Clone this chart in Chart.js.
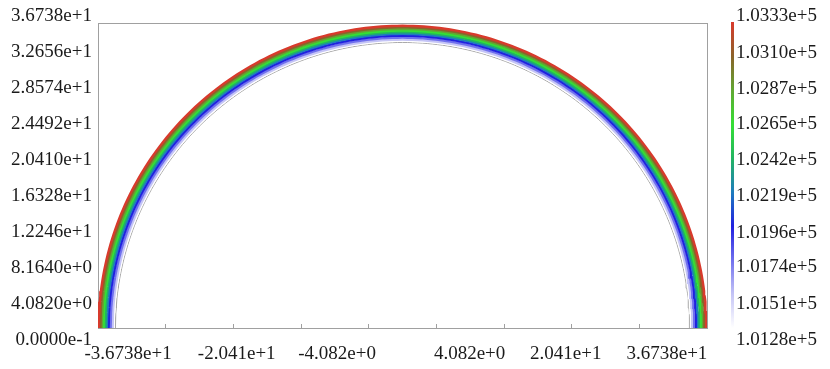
<!DOCTYPE html>
<html>
<head>
<meta charset="utf-8">
<script src="https://cdn.jsdelivr.net/npm/chart.js@4.4.1/dist/chart.umd.min.js"></script>
<style>
  html, body { margin: 0; padding: 0; background: #fff; }
  canvas { display: block; }
</style>
</head>
<body>
<canvas id="myChart" width="830" height="369"></canvas>
<script>
/* data */
const yTickLabels = ['3.6738e+1', '3.2656e+1', '2.8574e+1', '2.4492e+1', '2.0410e+1',
                     '1.6328e+1', '1.2246e+1', '8.1640e+0', '4.0820e+0', '0.0000e-1'];
const xTickLabels = ['-3.6738e+1', '-2.041e+1', '-4.082e+0', '4.082e+0', '2.041e+1', '3.6738e+1'];
const xLabelAt = [-33.1, -20.0, -7.9, 8.1, 19.7, 31.9];   // where each x label sits
const xTickValues = [-36.738, -28.574, -20.41, -12.246, -4.082, 4.082, 12.246, 20.41, 28.574, 36.738];
const cbTickLabels = ['1.0333e+5', '1.0310e+5', '1.0287e+5', '1.0265e+5', '1.0242e+5',
                      '1.0219e+5', '1.0196e+5', '1.0174e+5', '1.0151e+5', '1.0128e+5'];
const cbColors = ['#d83a2c', '#8a642a', '#60a832', '#34e034', '#22b462',
                  '#1e7cbe', '#2020e0', '#7070ee', '#c4c4f6', '#ffffff'];
// contour rings: radius and pressure (same levels as the colour bar)
const ringRadius = [36.66, 36.47, 36.28, 36.08, 35.88, 35.68, 35.46, 35.22, 34.98, 34.84];
const ringPressure = [1.0333e5, 1.0310e5, 1.0287e5, 1.0265e5, 1.0242e5,
                      1.0219e5, 1.0196e5, 1.0174e5, 1.0151e5, 1.0128e5];
const innerEdge = 34.64;
const R = 36.738;

/* layout of the plot box (px) */
const BOX_TOP = 23, BOX_H = 305;
const LABEL_OVER = 6.5, LABEL_UNDER = 12;   // labels run a bit past the box

function stretch(lo, hi) {
  const span = (hi - lo) * BOX_H / (BOX_H + LABEL_OVER + LABEL_UNDER);
  const min = lo + LABEL_UNDER / BOX_H * span;
  return { min: min, max: min + span };
}

function semicircle(r) {
  const pts = [];
  for (let a = 0; a <= 180; a++) {
    const t = a * Math.PI / 180;
    pts.push({ x: r * Math.cos(t), y: r * Math.sin(t) });
  }
  return pts;
}

const cbMin = ringPressure[ringPressure.length - 1], cbMax = ringPressure[0];
function colorFor(p) {
  return cbColors[ringPressure.indexOf(p)];
}

const ctx = document.getElementById('myChart');
const grad = ctx.getContext('2d').createLinearGradient(0, BOX_TOP, 0, BOX_TOP + BOX_H);
cbColors.forEach((c, i) => grad.addColorStop(i / (cbColors.length - 1), c));

const datasets = ringRadius.map((r, i) => ({
  data: semicircle(r),
  borderColor: colorFor(ringPressure[i]),
  borderWidth: 2.4,
  showLine: true,
  pointRadius: 0
}));
datasets.push({ data: semicircle(innerEdge), borderColor: '#a8a8a8', borderWidth: 1, showLine: true, pointRadius: 0 });

const font = { family: 'Liberation Serif', size: 19 };
const yl = stretch(0, R);
const cb = stretch(cbMin, cbMax);

var config = {
  type: 'scatter',
  data: { datasets: datasets },
  options: {
    responsive: false,
    animation: false,
    devicePixelRatio: 1,
    layout: { padding: { top: BOX_TOP, left: 0, right: 0, bottom: 0 } },
    plugins: { legend: { display: false }, tooltip: { enabled: false } },
    scales: {
      x: {
        type: 'linear', position: 'bottom', min: -R, max: R, weight: 0,
        afterBuildTicks: s => { s.ticks = xTickValues.map(v => ({ value: v })); },
        afterFit: s => { s.height = 0; },
        ticks: { callback: () => '', autoSkip: false },
        grid: { drawOnChartArea: false, tickLength: -4, color: '#a0a0a0' },
        border: { color: '#a0a0a0', width: 1 }
      },
      xl: {
        axis: 'x', type: 'linear', position: 'bottom', min: -R, max: R, weight: 1,
        afterBuildTicks: s => { s.ticks = xLabelAt.map(v => ({ value: v })); },
        afterFit: s => { s.height = 41; },
        ticks: { callback: (v, i) => xTickLabels[i], autoSkip: false, maxRotation: 0,
                 padding: 15, font: font, color: '#1a1a1a' },
        grid: { display: false, drawTicks: false },
        border: { display: false }
      },
      xt: {
        axis: 'x', type: 'linear', position: 'top', min: -R, max: R,
        afterFit: s => { s.height = 0; },
        ticks: { display: false },
        grid: { display: false, drawTicks: false },
        border: { color: '#a0a0a0', width: 1 }
      },
      y: {
        // box drawn a touch taller than the radius, as in the original plot
        type: 'linear', position: 'left', min: 0, max: 37.0, weight: 0,
        afterFit: s => { s.width = 0; },
        ticks: { display: false },
        grid: { display: false, drawTicks: false },
        border: { color: '#a0a0a0', width: 1 }
      },
      yl: {
        axis: 'y', type: 'linear', position: 'left', min: yl.min, max: yl.max, weight: 1,
        afterBuildTicks: s => { s.ticks = yTickLabels.map(t => ({ value: parseFloat(t) })); },
        afterFit: s => { s.width = 98; },
        ticks: { callback: (v, i) => yTickLabels[i], autoSkip: false, padding: 6,
                 font: font, color: '#1a1a1a' },
        grid: { display: false, drawTicks: false },
        border: { display: false }
      },
      yr: {
        axis: 'y', type: 'linear', position: 'right', min: 0, max: R, weight: 0,
        afterFit: s => { s.width = 25; },
        ticks: { display: false },
        grid: { display: false, drawTicks: false },
        border: { color: '#a0a0a0', width: 1 }
      },
      cb: {
        axis: 'y', type: 'linear', position: 'right', min: cb.min, max: cb.max, weight: 1,
        afterBuildTicks: s => { s.ticks = cbTickLabels.map(t => ({ value: parseFloat(t) })); },
        afterFit: s => { s.width = 98; },
        ticks: { callback: (v, i) => cbTickLabels[i], autoSkip: false, padding: 4,
                 font: font, color: '#1a1a1a' },
        grid: { display: false, drawTicks: false },
        border: { color: grad, width: 3 }
      }
    }
  }
};

var myChart = new Chart(ctx, config);
</script>
</body>
</html>
